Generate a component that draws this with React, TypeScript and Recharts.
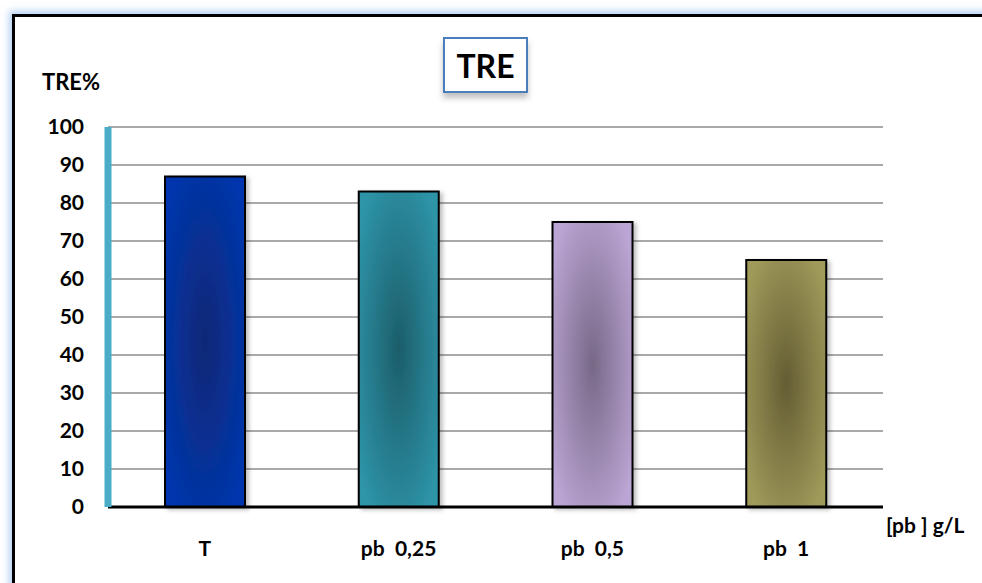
import React from "react";
import { BarChart, Bar, XAxis, YAxis, CartesianGrid, Cell } from "recharts";

// TRE% par concentration de plomb
const categories = ["T", "pb\u00a0\u00a00,25", "pb\u00a0\u00a00,5", "pb\u00a0\u00a01"];
const treValues = [87, 83, 75, 65];
const yTicks = [0, 10, 20, 30, 40, 50, 60, 70, 80, 90, 100];

// couleur du bord et couleur du centre pour chaque barre
const barEdgeColors = ["#0436ae", "#2e94a8", "#bba5d4", "#a09a5a"];
const barCenterColors = ["#0a2876", "#1c5d6a", "#776886", "#645d34"];

const chartData = categories.map((name, i) => ({ name, value: treValues[i] }));

const FONT = "Lato, 'Open Sans', sans-serif";

const App: React.FC = () => {
  return (
    <div
      style={{
        position: "absolute",
        left: 0,
        top: 0,
        width: 982,
        height: 583,
        background: "#fff",
        overflow: "hidden",
        fontFamily: FONT,
      }}
    >
      {/* cadre noir avec halo bleu */}
      <div
        style={{
          position: "absolute",
          left: 12,
          top: 14,
          width: 990,
          height: 600,
          border: "3px solid #000",
          boxShadow: "0 0 7px 3px rgba(120,170,235,0.55)",
        }}
      />

      <BarChart
        width={982}
        height={583}
        data={chartData}
        margin={{ top: 127, right: 99, bottom: 46, left: 0 }}
        barCategoryGap={57}
        style={{ position: "absolute", left: 0, top: 0 }}
      >
        <defs>
          {barEdgeColors.map((edge, i) => (
            <radialGradient key={i} id={`grad${i}`} cx="50%" cy="50%" r="62%">
              <stop offset="0%" stopColor={barCenterColors[i]} />
              <stop offset="100%" stopColor={edge} />
            </radialGradient>
          ))}
          <filter id="barShadow" x="-20%" y="-10%" width="150%" height="130%">
            <feDropShadow dx="3" dy="2" stdDeviation="2" floodColor="#000" floodOpacity="0.25" />
          </filter>
        </defs>
        <CartesianGrid vertical={false} stroke="#8c8c8c" strokeWidth={1.5} />
        <XAxis
          dataKey="name"
          axisLine={{ stroke: "#000", strokeWidth: 3 }}
          tickLine={false}
          tickSize={0}
          tickMargin={34}
          interval={0}
          tick={{ fill: "#000", fontSize: 21, fontWeight: 700, fontFamily: FONT }}
        />
        <YAxis
          width={108}
          domain={[0, 100]}
          ticks={yTicks}
          interval={0}
          axisLine={{ stroke: "#4bacc6", strokeWidth: 7 }}
          tickLine={false}
          tickSize={0}
          tickMargin={24}
          tick={{ fill: "#000", fontSize: 21, fontWeight: 700, fontFamily: FONT }}
        />
        <Bar
          dataKey="value"
          stroke="#000"
          strokeWidth={2}
          filter="url(#barShadow)"
          isAnimationActive={false}
        >
          {chartData.map((_, i) => (
            <Cell key={i} fill={`url(#grad${i})`} />
          ))}
        </Bar>
      </BarChart>

      {/* titre encadré */}
      <div
        style={{
          position: "absolute",
          left: 443,
          top: 37,
          width: 81,
          height: 52,
          border: "2px solid #4a7ebb",
          boxShadow: "0 5px 6px rgba(0,0,0,0.25)",
          background: "#fff",
          display: "flex",
          alignItems: "center",
          justifyContent: "center",
          fontSize: 32,
          fontWeight: 700,
          color: "#000",
        }}
      >
        TRE
      </div>

      <div
        style={{
          position: "absolute",
          left: 42,
          top: 68,
          fontSize: 22,
          fontWeight: 700,
          color: "#000",
        }}
      >
        TRE%
      </div>

      <div
        style={{
          position: "absolute",
          left: 886,
          top: 512,
          fontSize: 21,
          fontWeight: 700,
          color: "#000",
          whiteSpace: "pre",
        }}
      >
        [pb ] g/L
      </div>
    </div>
  );
};

export default App;
